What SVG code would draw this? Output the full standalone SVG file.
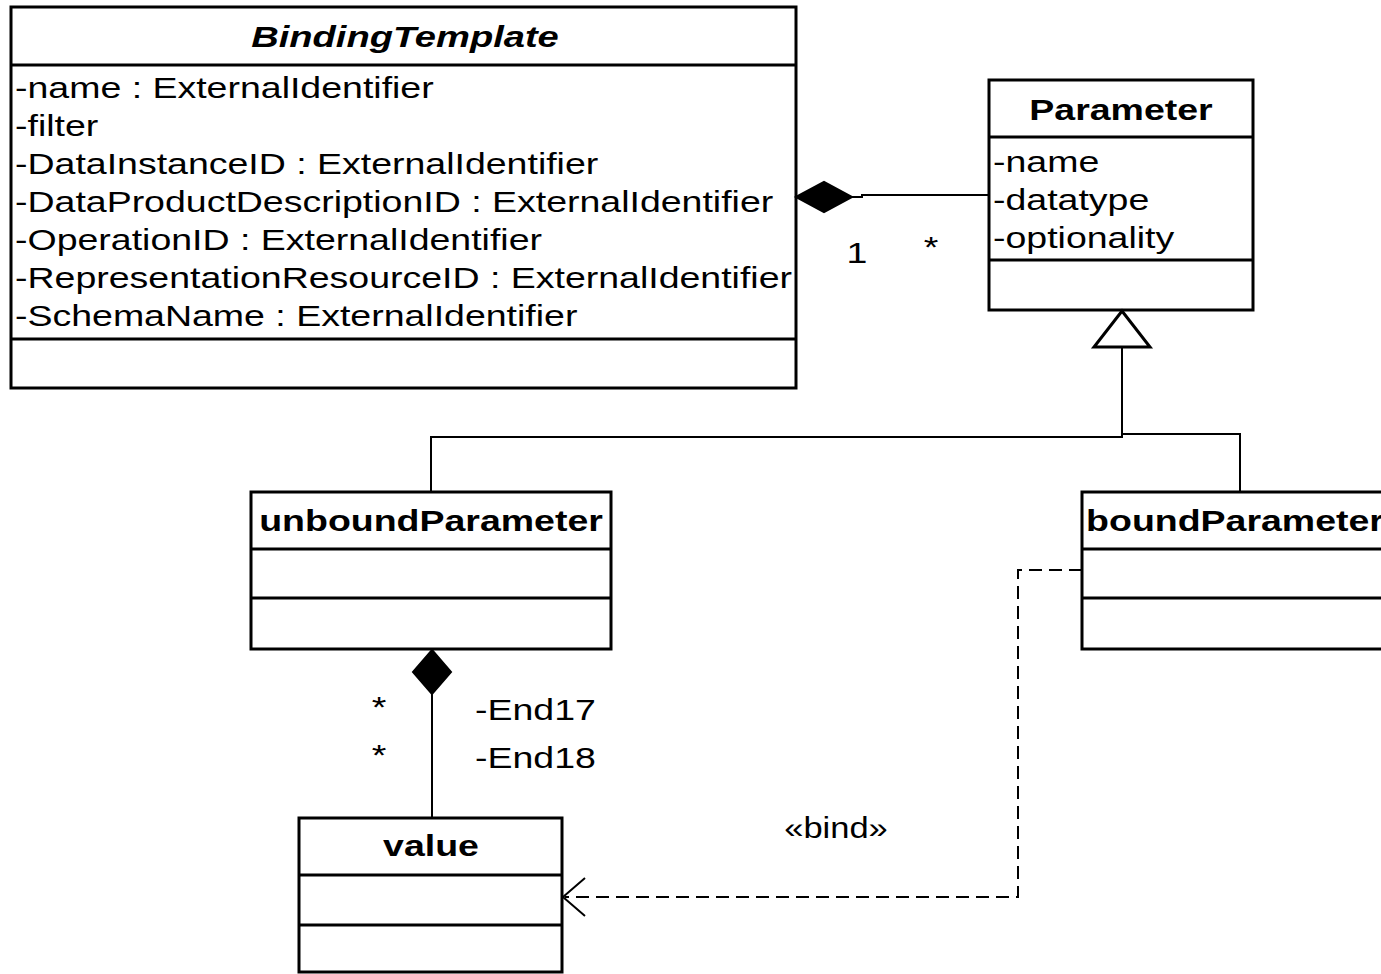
<svg xmlns="http://www.w3.org/2000/svg" width="1381" height="974" viewBox="0 0 1381 974">
<style>
.box{fill:#fff;stroke:#000;stroke-width:3}
.div{stroke:#000;stroke-width:3}
.t{font-family:"Liberation Sans",Arial,sans-serif;font-size:30px;fill:#000}
.b{font-weight:bold;text-anchor:middle}
.i{font-style:italic}
.c{fill:none;stroke:#000;stroke-width:2}
.d{fill:none;stroke:#000;stroke-width:2;stroke-dasharray:13 7}
</style>
<rect width="1381" height="974" fill="#fff"/>
<g id="BindingTemplate">
<rect class="box" x="11" y="7" width="785" height="381"/>
<line class="div" x1="11" y1="65" x2="796" y2="65"/>
<line class="div" x1="11" y1="339" x2="796" y2="339"/>
<text class="t b i" transform="translate(405,47) scale(1.27,1)">BindingTemplate</text>
<text class="t" transform="translate(15,98) scale(1.25,1)">-name : ExternalIdentifier</text>
<text class="t" transform="translate(15,136) scale(1.25,1)">-filter</text>
<text class="t" transform="translate(15,174) scale(1.25,1)">-DataInstanceID : ExternalIdentifier</text>
<text class="t" transform="translate(15,212) scale(1.25,1)">-DataProductDescriptionID : ExternalIdentifier</text>
<text class="t" transform="translate(15,250) scale(1.25,1)">-OperationID : ExternalIdentifier</text>
<text class="t" transform="translate(15,288) scale(1.25,1)">-RepresentationResourceID : ExternalIdentifier</text>
<text class="t" transform="translate(15,326) scale(1.25,1)">-SchemaName : ExternalIdentifier</text>
</g>
<g id="Parameter">
<rect class="box" x="989" y="80" width="264" height="230"/>
<line class="div" x1="989" y1="137" x2="1253" y2="137"/>
<line class="div" x1="989" y1="260" x2="1253" y2="260"/>
<text class="t b" transform="translate(1121,120) scale(1.25,1)">Parameter</text>
<text class="t" transform="translate(993,172) scale(1.25,1)">-name</text>
<text class="t" transform="translate(993,210) scale(1.25,1)">-datatype</text>
<text class="t" transform="translate(993,248) scale(1.25,1)">-optionality</text>
</g>
<g id="unboundParameter">
<rect class="box" x="251" y="492" width="360" height="157"/>
<line class="div" x1="251" y1="549" x2="611" y2="549"/>
<line class="div" x1="251" y1="598" x2="611" y2="598"/>
<text class="t b" transform="translate(431,531) scale(1.25,1)">unboundParameter</text>
</g>
<g id="boundParameter">
<rect class="box" x="1082" y="492" width="320" height="157"/>
<line class="div" x1="1082" y1="549" x2="1402" y2="549"/>
<line class="div" x1="1082" y1="598" x2="1402" y2="598"/>
<text class="t b" transform="translate(1235,531) scale(1.25,1)">boundParameter</text>
</g>
<g id="value">
<rect class="box" x="299" y="818" width="263" height="154"/>
<line class="div" x1="299" y1="875" x2="562" y2="875"/>
<line class="div" x1="299" y1="925" x2="562" y2="925"/>
<text class="t b" transform="translate(431,856) scale(1.25,1)">value</text>
</g>
<g id="connectors">
<path d="M796,197 L824,182 L852,197 L824,212 Z" fill="#000" stroke="#000" stroke-width="2"/>
<path class="c" d="M852,197 L862,197 L862,195 L989,195"/>
<text class="t" transform="translate(857,263) scale(1.25,1)" text-anchor="middle">1</text>
<text class="t" transform="translate(931,257) scale(1.25,1)" text-anchor="middle">*</text>
<path d="M1122,311 L1150,347 L1094,347 Z" fill="#fff" stroke="#000" stroke-width="3"/>
<path class="c" d="M1122,347 L1122,437 L431,437 L431,492"/>
<path class="c" d="M1122,434 L1240,434 L1240,492"/>
<path d="M432,650 L451,672 L432,694 L413,672 Z" fill="#000" stroke="#000" stroke-width="2"/>
<path class="c" d="M432,694 L432,818"/>
<text class="t" transform="translate(379,717) scale(1.25,1)" text-anchor="middle">*</text>
<text class="t" transform="translate(379,765) scale(1.25,1)" text-anchor="middle">*</text>
<text class="t" transform="translate(475,720) scale(1.25,1)">-End17</text>
<text class="t" transform="translate(475,768) scale(1.25,1)">-End18</text>
<path class="d" d="M1082,570 L1018,570 L1018,897 L565,897"/>
<path class="c" d="M585,878 L563,897 L585,916"/>
<text class="t" transform="translate(836,838) scale(1.15,1)" text-anchor="middle">«bind»</text>
</g>
</svg>
